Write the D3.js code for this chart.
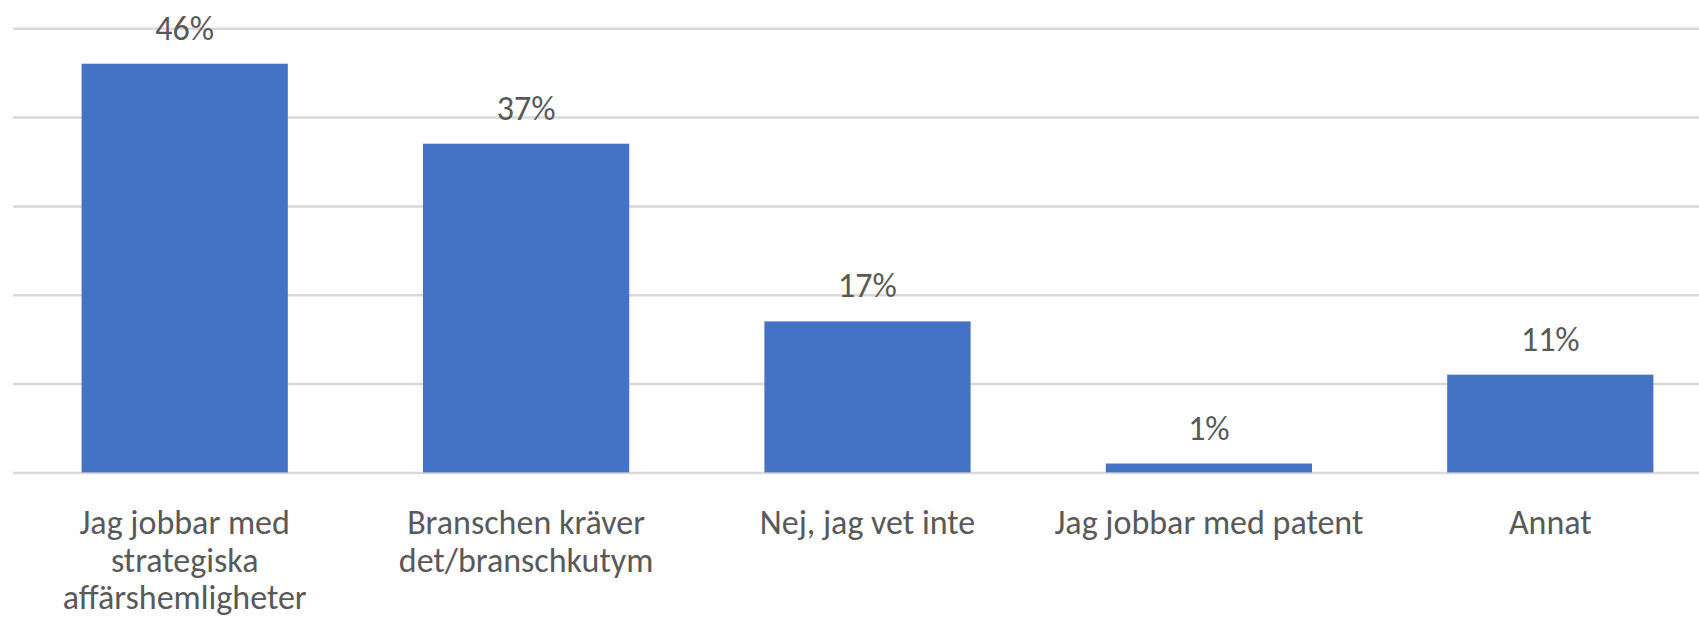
<!DOCTYPE html>
<html>
<head>
<meta charset="utf-8">
<script src="https://cdn.jsdelivr.net/npm/d3@7/dist/d3.min.js"></script>
<style>
  body { margin: 0; background: #fff; }
  svg { display: block; }
  .grid line { stroke: #d9d9d9; stroke-width: 2.5; }
  .grid .domain { display: none; }
  .lbl { font-family: Carlito, Calibri, "Liberation Sans Narrow", "DejaVu Sans Condensed", sans-serif; font-size: 34px; fill: #595959; }
</style>
</head>
<body>
<script>
// data
var categories = [
  "Jag jobbar med strategiska affärshemligheter",
  "Branschen kräver det/branschkutym",
  "Nej, jag vet inte",
  "Jag jobbar med patent",
  "Annat"
];
var values = [46, 37, 17, 1, 11];
var gridTicks = [0, 10, 20, 30, 40, 50];

var W = 1699, H = 620;

var svg = d3.select("body").append("svg")
    .attr("width", W)
    .attr("height", H);

// scales
var x = d3.scaleBand()
    .domain(categories)
    .range([14, 1721])
    .paddingInner(0.396)
    .paddingOuter(0.198);

var y = d3.scaleLinear()
    .domain([0, 50])
    .range([472.4, 28.2]);

// horizontal gridlines
svg.append("g")
    .attr("class", "grid")
    .attr("transform", "translate(13,0)")
    .call(d3.axisRight(y).tickValues(gridTicks).tickSize(W).tickFormat(""));

// bars
svg.selectAll("rect.bar")
    .data(values)
  .enter().append("rect")
    .attr("class", "bar")
    .attr("x", function(d, i) { return x(categories[i]); })
    .attr("y", function(d) { return y(d); })
    .attr("width", x.bandwidth())
    .attr("height", function(d) { return y(0) - y(d); })
    .attr("fill", "#4472c4");

// value labels
svg.selectAll("text.val")
    .data(values)
  .enter().append("text")
    .attr("class", "lbl val")
    .attr("text-anchor", "middle")
    .attr("x", function(d, i) { return x(categories[i]) + x.bandwidth() / 2; })
    .attr("y", function(d) { return y(d) - 24; })
    .text(function(d) { return d + "%"; });

// category labels, wrapped
var maxW = 335;
var cats = svg.selectAll("text.cat")
    .data(categories)
  .enter().append("text")
    .attr("class", "lbl cat")
    .attr("text-anchor", "middle")
    .attr("x", function(d) { return x(d) + x.bandwidth() / 2; })
    .attr("y", 534);

cats.each(function(d) {
  var t = d3.select(this),
      words = d.split(" "),
      line = [],
      cx = t.attr("x"),
      tspan = t.append("tspan").attr("x", cx).attr("dy", 0);
  words.forEach(function(w) {
    line.push(w);
    tspan.text(line.join(" "));
    if (tspan.node().getComputedTextLength() > maxW && line.length > 1) {
      line.pop();
      tspan.text(line.join(" "));
      line = [w];
      tspan = t.append("tspan").attr("x", cx).attr("dy", 37.5).text(w);
    }
  });
});
</script>
</body>
</html>
